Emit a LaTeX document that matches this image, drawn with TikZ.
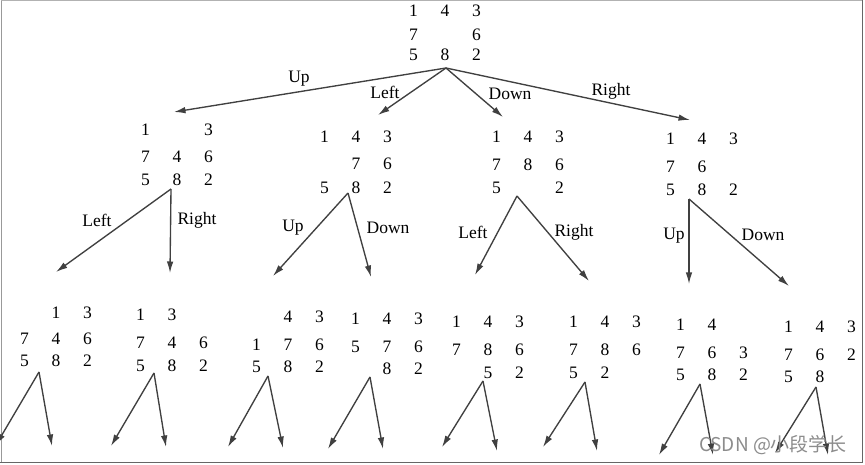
\documentclass[tikz,border=0pt]{standalone}
\usepackage{fontspec}
\setmainfont{Liberation Serif}
\newfontfamily\cjk{Noto Sans CJK SC}
\usetikzlibrary{arrows.meta}
\newcommand\prow[3]{\hbox{\makebox[31.5pt]{#1}\makebox[31.5pt]{#2}\makebox[31.5pt]{#3}\vphantom{0}}}
\newcommand\pz[8]{\node[puzzle] (#1) at (#2,#3-6) {\vbox{\offinterlineskip\prow#6\vskip\dimexpr#4pt-11.8pt\relax\prow#7\vskip\dimexpr#5pt-11.8pt\relax\prow#8}};}
\tikzset{
  puzzle/.style={anchor=north, inner sep=0pt, text=black, font=\fontsize{17.5}{20}\selectfont},
  mv/.style={draw=black!75, line width=1.35pt, -{Latex[length=11.5pt,width=6.5pt]}},
  lbl/.style={inner sep=0pt, text=black, font=\fontsize{17.5}{20}\selectfont},
}
\begin{document}
\begin{tikzpicture}[x=1pt,y=-1pt]
\useasboundingbox (0,0) rectangle (865,465);
\fill[white] (0,0) rectangle (865,465);
\clip (0,0) rectangle (865,465);
% frame
\draw[black!30, line width=1pt] (1,1) -- (862,1);
\draw[black!40, line width=1pt] (1,1) -- (1,462);
\draw[black!60, line width=1.8pt] (862.5,0) -- (862.5,463.3);
\draw[black!60, line width=1.8pt] (0,462.5) -- (863.3,462.5);
% states
\pz{root}{445}{11}{24}{20}{{1}{4}{3}}{{7}{}{6}}{{5}{8}{2}}
\pz{A}{177}{130}{27}{23}{{1}{}{3}}{{7}{4}{6}}{{5}{8}{2}}
\pz{B}{356}{137}{27}{24}{{1}{4}{3}}{{}{7}{6}}{{5}{8}{2}}
\pz{C}{528}{137}{28}{23}{{1}{4}{3}}{{7}{8}{6}}{{5}{}{2}}
\pz{D}{702}{139}{28}{23}{{1}{4}{3}}{{7}{6}{}}{{5}{8}{2}}
\pz{A1}{56}{313}{26}{22}{{}{1}{3}}{{7}{4}{6}}{{5}{8}{2}}
\pz{A2}{172}{315}{28}{23}{{1}{3}{}}{{7}{4}{6}}{{5}{8}{2}}
\pz{B1}{288}{317}{28}{22}{{}{4}{3}}{{1}{7}{6}}{{5}{8}{2}}
\pz{B2}{387}{319}{28}{22}{{1}{4}{3}}{{5}{7}{6}}{{}{8}{2}}
\pz{C1}{488}{322}{28}{23}{{1}{4}{3}}{{7}{8}{6}}{{}{5}{2}}
\pz{C2}{605}{322}{28}{23}{{1}{4}{3}}{{7}{8}{6}}{{5}{2}{}}
\pz{D1}{712}{325}{28}{22}{{1}{4}{}}{{7}{6}{3}}{{5}{8}{2}}
\pz{D2}{820}{327}{28}{22}{{1}{4}{3}}{{7}{6}{2}}{{5}{8}{}}
% arrow origins and tips
\coordinate (root-o) at (446,68);
\coordinate (root-u) at (174,112);
\coordinate (root-l) at (378,115);
\coordinate (root-d) at (503,117);
\coordinate (root-r) at (690,120);
\coordinate (A-o) at (171,189);
\coordinate (A-l) at (56,272);
\coordinate (A-r) at (170,273);
\coordinate (B-o) at (348,193);
\coordinate (B-u) at (273,276);
\coordinate (B-d) at (371,277);
\coordinate (C-o) at (517,196);
\coordinate (C-l) at (475,275);
\coordinate (C-r) at (589,281);
\coordinate (D-o) at (689,199);
\coordinate (D-u) at (689,284);
\coordinate (D-d) at (789,286);
\coordinate (A1-o) at (39,372);
\coordinate (A1-a) at (-4,445);
\coordinate (A1-b) at (52,446);
\coordinate (A2-o) at (154,373);
\coordinate (A2-a) at (111,446);
\coordinate (A2-b) at (166,447);
\coordinate (B1-o) at (268,376);
\coordinate (B1-a) at (228,447);
\coordinate (B1-b) at (283,448);
\coordinate (B2-o) at (370,377);
\coordinate (B2-a) at (328,449);
\coordinate (B2-b) at (383,449);
\coordinate (C1-o) at (483,381);
\coordinate (C1-a) at (442,447);
\coordinate (C1-b) at (497,451);
\coordinate (C2-o) at (585,382);
\coordinate (C2-a) at (543,447);
\coordinate (C2-b) at (597,451);
\coordinate (D1-o) at (700,384);
\coordinate (D1-a) at (659,455);
\coordinate (D1-b) at (713,455);
\coordinate (D2-o) at (816,387);
\coordinate (D2-a) at (775,453);
\coordinate (D2-b) at (828,455);
% connectors
\foreach \s/\t in {root/u,root/l,root/d,root/r,A/l,A/r,B/u,B/d,C/l,C/r,D/u,D/d}
  \draw[mv] (\s-o) -- (\s-\t);
\foreach \s in {A1,A2,B1,B2,C1,C2,D1,D2}{
  \draw[mv] (\s-o) -- (\s-a);
  \draw[mv] (\s-o) -- (\s-b);
}
% labels
\node[lbl] (lu) at (299,79) {Up};
\node[lbl] (ll) at (385,92) {Left};
\node[lbl] (ld) at (510,94) {Down};
\node[lbl] (lr) at (611,91) {Right};
\node[lbl] (Al) at (97,220) {Left};
\node[lbl] (Ar) at (197,220) {Right};
\node[lbl] (Bu) at (293,228) {Up};
\node[lbl] (Bd) at (388,228) {Down};
\node[lbl] (Cl) at (473,232) {Left};
\node[lbl] (Cr) at (574,232) {Right};
\node[lbl] (Du) at (674,236) {Up};
\node[lbl] (Dd) at (763,235) {Down};
% watermark
\node[inner sep=0pt, text=black!45, font=\cjk\fontsize{19}{22}\selectfont] (wm) at (773,445) {CSDN @小段学长};
\end{tikzpicture}
\end{document}
